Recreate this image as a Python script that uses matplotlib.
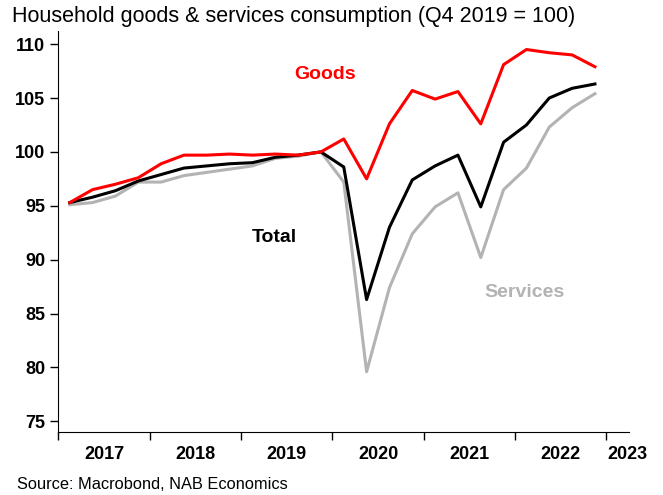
import matplotlib
matplotlib.use("Agg")
import matplotlib.pyplot as plt

plt.rcParams["font.family"] = ["Liberation Sans", "DejaVu Sans"]

# quarterly, Q1 2017 .. Q4 2022, plotted at mid-quarter
years = [2017, 2018, 2019, 2020, 2021, 2022]
quarter_x = [y + (q - 0.5) / 4 for y in years for q in range(1, 5)]

goods = [95.3, 96.5, 97.0, 97.6, 98.9, 99.7, 99.7, 99.8, 99.7, 99.8, 99.7, 100.0,
         101.2, 97.5, 102.6, 105.7, 104.9, 105.6, 102.6, 108.1, 109.5, 109.2, 109.0, 107.9]
total = [95.3, 95.8, 96.4, 97.3, 97.9, 98.5, 98.7, 98.9, 99.0, 99.5, 99.7, 100.0,
         98.6, 86.3, 93.0, 97.4, 98.7, 99.7, 94.9, 100.9, 102.5, 105.0, 105.9, 106.3]
services = [95.1, 95.3, 95.9, 97.2, 97.2, 97.8, 98.1, 98.4, 98.7, 99.4, 99.6, 100.0,
            97.2, 79.6, 87.4, 92.4, 94.9, 96.2, 90.2, 96.5, 98.5, 102.3, 104.1, 105.4]

year_ticks = [2017, 2018, 2019, 2020, 2021, 2022, 2023]
year_labels = ["2017", "2018", "2019", "2020", "2021", "2022", "2023"]
y_ticks = [75, 80, 85, 90, 95, 100, 105, 110]

fig = plt.figure(figsize=(6.63, 4.95), dpi=100)
ax = fig.add_axes([0.088, 0.127, 0.861, 0.81])

ax.plot(quarter_x, services, color="#b3b3b3", lw=2.2)
ax.plot(quarter_x, total, color="black", lw=2.2)
ax.plot(quarter_x, goods, color="#ff0000", lw=2.2)

ax.set_xlim(2017, 2023.25)
ax.set_ylim(74, 111.2)
ax.set_yticks(y_ticks)
ax.set_yticklabels([str(v) for v in y_ticks], fontsize=13, fontweight="bold")
ax.set_xticks(year_ticks)
ax.set_xticklabels([])
for i, lab in enumerate(year_labels):
    xpos = year_ticks[i] + 0.5 if i < len(year_labels) - 1 else 2023.23
    ax.text(xpos, -0.035, lab, transform=ax.get_xaxis_transform(), ha="center", va="top",
            fontsize=13, fontweight="bold")

ax.tick_params(axis="both", direction="out", length=6, width=1)
ax.spines["top"].set_visible(False)
ax.spines["right"].set_visible(False)

ax.text(2019.92, 107.2, "Goods", color="#ff0000", fontsize=14, fontweight="bold", ha="center", va="center")
ax.text(2019.37, 92.1, "Total", color="black", fontsize=14, fontweight="bold", ha="center", va="center")
ax.text(2022.1, 87.0, "Services", color="#b3b3b3", fontsize=14, fontweight="bold", ha="center", va="center")

fig.text(0.018, 0.988, "Household goods & services consumption (Q4 2019 = 100)", fontsize=15.5, ha="left", va="top")
fig.text(0.026, 0.022, "Source: Macrobond, NAB Economics", fontsize=11.75, ha="left", va="center")

fig.savefig("out.png", dpi=100)
